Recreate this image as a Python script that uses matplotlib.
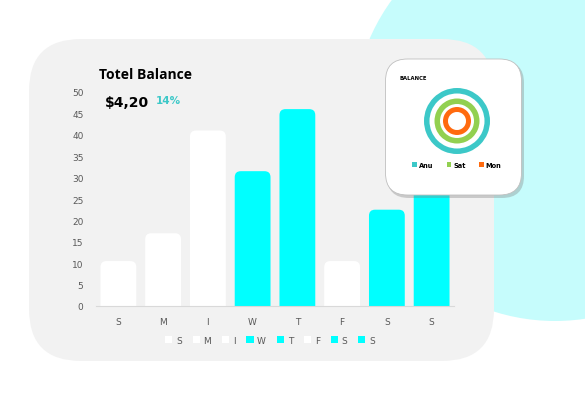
import numpy as np
import matplotlib
matplotlib.use("Agg")
import matplotlib.pyplot as plt
from matplotlib.patches import FancyBboxPatch, Circle

days = ["S", "M", "I", "W", "T", "F", "S", "S"]
values = [10.5, 17, 41, 31.5, 46, 10.5, 22.5, 32]
bar_colors = ["#ffffff", "#ffffff", "#ffffff", "#00ffff", "#00ffff", "#ffffff", "#00ffff", "#00ffff"]
yticks = list(range(0, 55, 5))
ring_names = ["Anu", "Sat", "Mon"]
ring_colors = ["#3cc8c8", "#92d050", "#ff6a0f"]
ring_values = [1, 1, 1]

W, H = 585, 406
fig = plt.figure(figsize=(W / 100, H / 100), dpi=100)
fig.patch.set_facecolor("white")

# background layer in pixel coordinates
bg = fig.add_axes([0, 0, 1, 1], zorder=0)
bg.set_xlim(0, W); bg.set_ylim(H, 0); bg.axis("off")
bg.add_patch(Circle((555, 120), 202, color="#c6fcfc", lw=0))
bg.add_patch(FancyBboxPatch((29, 40), 465, 322, boxstyle="round,pad=0,rounding_size=52",
                            fc="#f2f2f2", ec="none"))
bg.text(99, 75, "Totel Balance", fontsize=10, fontweight="bold", color="black",
        va="center", ha="left", family="Open Sans")
bg.text(105, 103, "$4,20", fontsize=10, fontweight="bold", color="black",
        va="center", ha="left", family="DejaVu Sans")
bg.text(156, 101, "14%", fontsize=7.5, fontweight="bold", color="#3cc8c8",
        va="center", ha="left", family="DejaVu Sans")

# bar chart
L, R, T, B = 96, 454, 93, 307
ax = fig.add_axes([L / W, 1 - B / H, (R - L) / W, (B - T) / H], zorder=1)
ax.set_facecolor("none")
x = np.arange(len(days))
ax.set_xlim(-0.5, len(days) - 0.5)
ax.set_ylim(0, 50)
bars = ax.bar(x, values, width=0.8, color=bar_colors, lw=0)
px_x = (len(days)) / (R - L)
px_y = 50 / (B - T)
aspect = px_y / px_x
rs = 6 * px_x
handles = []
for b, c, d in zip(bars, bar_colors, days):
    bx, bw, bh = b.get_x(), b.get_width(), b.get_height()
    p = FancyBboxPatch((bx, -3), bw, bh + 3, boxstyle=f"round,pad=0,rounding_size={rs}",
                       mutation_aspect=aspect, fc=c, ec="none", label=d)
    ax.add_patch(p)
    handles.append(p)
    b.remove()
ax.set_xticks(x, days)
ax.set_yticks(yticks)
for s in ["top", "right", "left"]:
    ax.spines[s].set_visible(False)
ax.spines["bottom"].set_color("#d9d9d9")
ax.tick_params(length=0, labelsize=6.5, labelcolor="#595959")
ax.tick_params(axis="x", pad=8)
ax.tick_params(axis="y", pad=9)
leg = ax.legend(handles=handles, labels=days, loc="center", bbox_to_anchor=(0.486, -0.159),
                ncol=8, frameon=False, fontsize=6.5, handlelength=0.8, handleheight=0.8,
                handletextpad=0.4, columnspacing=1.2, labelcolor="#595959")

# card overlay
ov = fig.add_axes([0, 0, 1, 1], zorder=2)
ov.set_xlim(0, W); ov.set_ylim(H, 0); ov.axis("off")
ov.add_patch(FancyBboxPatch((387, 62), 137, 137, boxstyle="round,pad=0,rounding_size=22",
                            fc="#7f7f7f", ec="none", alpha=0.35))
ov.add_patch(FancyBboxPatch((385.5, 60), 136, 136, boxstyle="round,pad=0,rounding_size=22",
                            fc="white", ec="#bfbfbf", lw=0.6))
ov.text(400, 79, "BALANCE", fontsize=3.8, fontweight="bold", color="black", va="center", ha="left")

cx, cy, S = 457, 122, 80
dax = fig.add_axes([(cx - S / 2) / W, 1 - (cy + S / 2) / H, S / W, S / H], zorder=3)
radii = [33, 22.5, 14]
widths = [5.5, 5.5, 5]
wedges = []
for v, r, w, c in zip(ring_values, radii, widths, ring_colors):
    wd, _ = dax.pie([v], radius=r, colors=[c], wedgeprops=dict(width=w, lw=0))
    wedges.append(wd[0])
dax.set_xlim(-S / 2, S / 2); dax.set_ylim(-S / 2, S / 2)
dax.set_aspect("equal"); dax.axis("off")
dax.legend(wedges, ring_names, loc="center", bbox_to_anchor=(0.5, 1 - (166 - (cy - S / 2)) / S),
           ncol=3, frameon=False, prop=dict(size=4.8, weight="bold"), handlelength=0.7,
           handleheight=0.7, handletextpad=0.3, columnspacing=2.0)

fig.savefig("out.png", dpi=100)
